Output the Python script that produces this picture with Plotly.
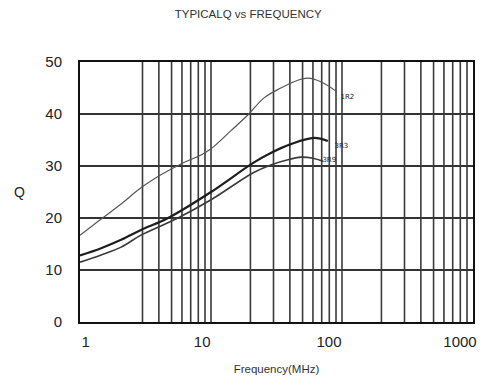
import plotly.graph_objects as go

# Data (frequency in MHz, Q)
freq_1r2 = [1.0, 1.45, 2.06, 2.92, 4.15, 5.9, 8.4, 10, 14.2, 19.1, 25.4, 34.1, 46, 55, 69, 90]
q_1r2 = [16.7, 19.8, 22.7, 25.8, 28.3, 30.4, 32.1, 33.3, 36.8, 39.8, 43.1, 45.0, 46.5, 46.9, 46.2, 44.4]

freq_3r3 = [1.0, 1.45, 2.06, 2.92, 4.7, 10, 21, 28.6, 40.7, 61, 78]
q_3r3 = [12.8, 14.2, 15.8, 17.7, 20.0, 25.0, 30.6, 32.5, 34.2, 35.4, 34.8]

freq_3r9 = [1.0, 1.45, 2.06, 2.92, 5.6, 10, 21, 28.6, 40, 48.6, 60, 72]
q_3r9 = [11.5, 12.9, 14.4, 16.7, 20.0, 23.5, 28.7, 30.2, 31.3, 31.7, 31.5, 30.9]

series_names = ["1R2", "3R3", "3R9"]
label_freq = [110, 99, 80]
label_q = [43.3, 33.8, 31.2]

grid_x = [3, 4, 5, 6, 7, 8, 9, 10, 20, 30, 40, 50, 60, 70, 80, 90, 100,
          200, 300, 400, 500, 600, 700, 800, 900]
NB = "\u00a0"
x_labels = {1: NB * 9 + "1", 10: NB * 2 + "10", 100: "100", 1000: "1000"}
y_ticks = [0, 10, 20, 30, 40, 50]

fig = go.Figure()

# vertical grid lines drawn as traces through the log axis
for gx in grid_x:
    fig.add_trace(go.Scatter(x=[gx, gx], y=[0, 50], mode="lines",
                             line=dict(color="#3a3a3a", width=1.6),
                             hoverinfo="skip", showlegend=False))

styles = [
    dict(color="#555555", width=1.2),
    dict(color="#1e1e1e", width=2.2),
    dict(color="#3a3a3a", width=1.6),
]
for xs, ys, st in [(freq_1r2, q_1r2, styles[0]), (freq_3r3, q_3r3, styles[1]),
                   (freq_3r9, q_3r9, styles[2])]:
    fig.add_trace(go.Scatter(x=xs, y=ys, mode="lines",
                             line=dict(shape="spline", smoothing=1.0, **st),
                             showlegend=False))

fig.add_trace(go.Scatter(x=label_freq, y=label_q, mode="text", text=series_names,
                         textfont=dict(family="DejaVu Sans", size=7, color="#222"),
                         showlegend=False))

all_x = [1] + grid_x + [1000]
fig.update_layout(
    width=482, height=389,
    margin=dict(l=80, r=9, t=62, b=67, autoexpand=False),
    paper_bgcolor="white", plot_bgcolor="white",
    font=dict(family="Liberation Sans, Arial, sans-serif", color="#222"),
    title=dict(text="TYPICALQ vs FREQUENCY", x=0.515, xanchor="center",
               y=0.965, yanchor="middle",
               font=dict(size=11.5, color="#333")),
    xaxis=dict(type="log", range=[0, 3], automargin=False,
               tickvals=all_x,
               ticktext=[x_labels.get(v, "") for v in all_x],
               ticklabeloverflow="allow", ticklabelshift=-13,
               showgrid=False, zeroline=False,
               showline=True, linecolor="#111", linewidth=2, mirror=True,
               ticks="outside", ticklen=5, tickcolor="rgba(0,0,0,0)",
               tickfont=dict(size=15, color="#222"),
               title=dict(text="Frequency(MHz)", font=dict(size=11.5, color="#333"),
                          standoff=16)),
    yaxis=dict(range=[0, 50], tickvals=y_ticks, automargin=False,
               showgrid=True, gridcolor="#333333", gridwidth=1.8,
               zeroline=False,
               showline=True, linecolor="#111", linewidth=2, mirror=True,
               ticks="outside", ticklen=13, tickcolor="rgba(0,0,0,0)",
               tickfont=dict(size=15, color="#222")),
    annotations=[dict(text="Q", xref="paper", yref="paper", x=-0.153, y=0.5,
                      xanchor="center", yanchor="middle", showarrow=False,
                      font=dict(size=14, color="#222"))],
)

fig.write_html("out.html")
